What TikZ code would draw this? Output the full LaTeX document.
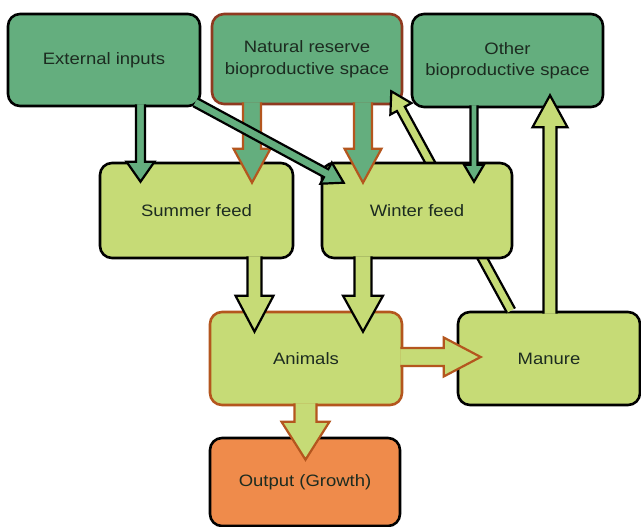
\documentclass[tikz,border=0pt]{standalone}
\usepackage{fontspec}
\setmainfont[FakeStretch=1.12]{Liberation Sans}
\usetikzlibrary{calc}

\definecolor{boxdark}{HTML}{64AE7E}
\definecolor{boxlight}{HTML}{C6DB76}
\definecolor{boxorange}{HTML}{EF8B4B}
\definecolor{rimred}{HTML}{8F3A20}
\definecolor{rimorange}{HTML}{B4561E}
\definecolor{inktext}{HTML}{1C2B20}

\tikzset{
  box/.style={rectangle, draw=black, line width=2.6pt, rounded corners=12pt,
    inner sep=0pt, align=center, text=inktext,
    font=\fontsize{16.5}{21.5}\selectfont},
  darkbox/.style={box, fill=boxdark},
  reservebox/.style={box, fill=boxdark, draw=rimred},
  lightbox/.style={box, fill=boxlight},
  animalbox/.style={box, fill=boxlight, draw=rimorange},
  outputbox/.style={box, fill=boxorange},
  flow/.style={line width=2.2pt, line join=miter},
  darkflow/.style={flow, fill=boxdark, draw=black},
  reserveflow/.style={flow, fill=boxdark, draw=rimorange},
  lightflow/.style={flow, fill=boxlight, draw=black},
  animalflow/.style={flow, fill=boxlight, draw=rimorange},
}

% Block arrow: #1 style, #2 tail, #3 tip, #4 half shaft width,
% #5 half head width, #6 head length. The tail end is left open.
\newcommand{\blockarrow}[6]{%
  \path ($(#3)!#6!(#2)$) coordinate (ba-base);
  \path[#1, draw=none]
    ($(#2)!#4!90:(#3)$) -- ($(ba-base)!#4!90:(#3)$) --
    ($(ba-base)!#5!90:(#3)$) -- (#3) --
    ($(ba-base)!#5!-90:(#3)$) -- ($(ba-base)!#4!-90:(#3)$) --
    ($(#2)!#4!-90:(#3)$) -- cycle;
  \path[#1, fill=none]
    ($(#2)!#4!90:(#3)$) -- ($(ba-base)!#4!90:(#3)$) --
    ($(ba-base)!#5!90:(#3)$) -- (#3) --
    ($(ba-base)!#5!-90:(#3)$) -- ($(ba-base)!#4!-90:(#3)$) --
    ($(#2)!#4!-90:(#3)$);
}

\begin{document}
\begin{tikzpicture}[x=1pt, y=-1pt]
  \useasboundingbox[fill=white] (0,0) rectangle (641,527);

  % sources
  \node[darkbox, minimum width=192pt, minimum height=92pt] (ext) at (104,60) {External inputs};
  \node[reservebox, minimum width=190pt, minimum height=90pt] (nat) at (307,59) {Natural reserve\\bioproductive space};
  \node[darkbox, minimum width=191pt, minimum height=93pt] (oth) at (507.5,60.5) {Other\\bioproductive space};
  \node[lightbox, minimum width=182pt, minimum height=93pt] (man) at (549,358.5) {Manure};

  % manure returned to the reserve, passing behind the winter feed
  \coordinate (m1) at ($(man.north)+(-38,0)$);
  \coordinate (m2) at ($(nat.south east)+(-12,-14)$);
  \blockarrow{lightflow}{m1}{m2}{4.5pt}{12pt}{20pt}

  % feeds, animals, output
  \node[lightbox, minimum width=193pt, minimum height=95pt] (sum) at (196.5,210.5) {Summer feed};
  \node[lightbox, minimum width=190pt, minimum height=95pt] (win) at (417,210.5) {Winter feed};
  \node[animalbox, minimum width=192pt, minimum height=93pt] (ani) at (306,358.5) {Animals};
  \node[outputbox, minimum width=190pt, minimum height=88pt] (out) at (305,482) {Output (Growth)};

  % reserve to feeds
  \coordinate (r1) at ($(nat.south)+(-55,-3)$);
  \coordinate (r2) at ($(sum.north)+(55.5,21)$);
  \blockarrow{reserveflow}{r1}{r2}{9pt}{18.5pt}{34pt}
  \coordinate (r3) at ($(nat.south)+(56,-3)$);
  \coordinate (r4) at ($(win.north)+(-54,21)$);
  \blockarrow{reserveflow}{r3}{r4}{9pt}{18.5pt}{34pt}

  % external inputs to feeds
  \coordinate (e1) at ($(ext.south)+(36.5,-3)$);
  \coordinate (e2) at ($(sum.north)+(-56,20)$);
  \blockarrow{darkflow}{e1}{e2}{4.5pt}{14pt}{20pt}
  \coordinate (e3) at ($(ext.south east)+(-6,-5)$);
  \coordinate (e4) at ($(win.north west)+(23,21)$);
  \blockarrow{darkflow}{e3}{e4}{4.5pt}{12pt}{20pt}

  % other space to winter feed
  \coordinate (o1) at ($(oth.south)+(-33.5,-3)$);
  \coordinate (o2) at ($(win.north)+(57,20)$);
  \blockarrow{darkflow}{o1}{o2}{3.5pt}{10pt}{17pt}

  % feeds to animals
  \coordinate (s1) at ($(sum.south)+(58,-3)$);
  \coordinate (s2) at ($(ani.north)+(-51.5,21)$);
  \blockarrow{lightflow}{s1}{s2}{7pt}{19pt}{36pt}
  \coordinate (w1) at ($(win.south)+(-54,-3)$);
  \coordinate (w2) at ($(ani.north)+(57,21)$);
  \blockarrow{lightflow}{w1}{w2}{8.5pt}{20pt}{36pt}

  % animals to manure and output
  \coordinate (a1) at ($(ani.east)+(-3,-1.5)$);
  \coordinate (a2) at ($(man.west)+(24,-1.5)$);
  \blockarrow{animalflow}{a1}{a2}{9pt}{19.5pt}{37pt}
  \coordinate (a3) at ($(ani.south)+(-0.5,-3)$);
  \coordinate (a4) at ($(out.north)+(0.5,23)$);
  \blockarrow{animalflow}{a3}{a4}{11pt}{24pt}{38pt}

  % manure to other space
  \coordinate (g1) at ($(man.north)+(1,3)$);
  \coordinate (g2) at ($(oth.south)+(42.5,-13)$);
  \blockarrow{lightflow}{g1}{g2}{6.5pt}{17.5pt}{32pt}
\end{tikzpicture}
\end{document}
